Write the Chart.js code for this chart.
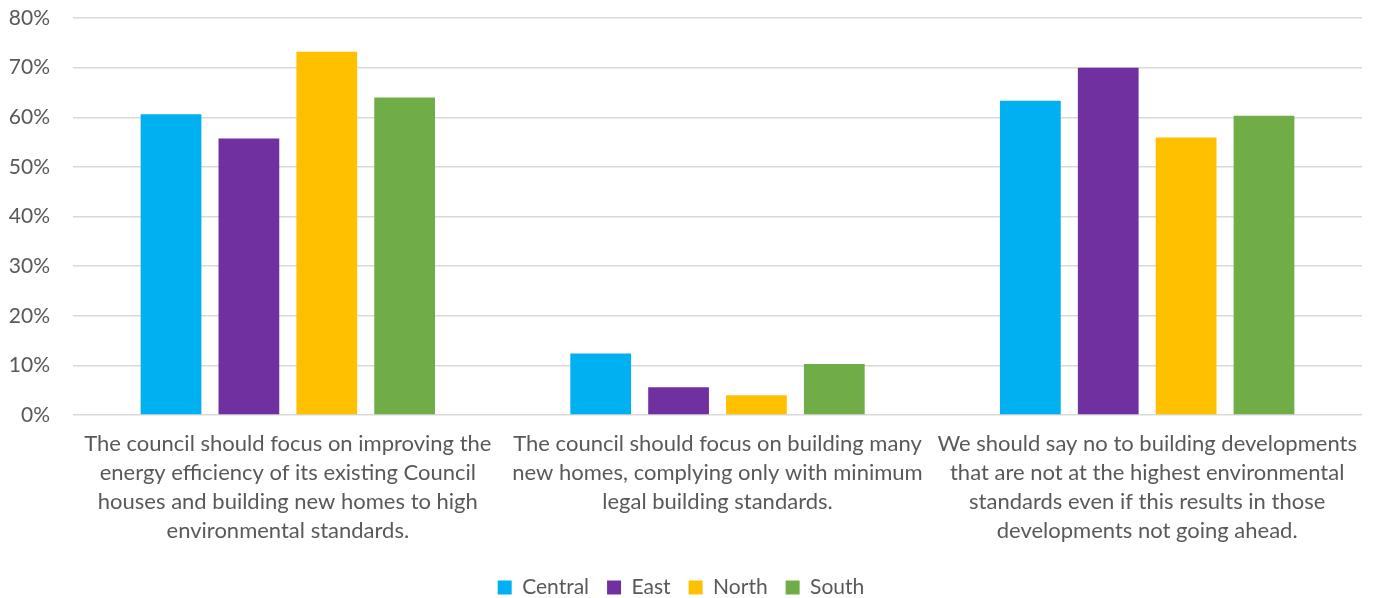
<!DOCTYPE html>
<html>
<head>
<meta charset="utf-8">
<script src="https://cdn.jsdelivr.net/npm/chart.js@4"></script>
<style>
  html, body { margin: 0; padding: 0; background: #fff; }
  #wrap { width: 1376px; height: 598px; }
</style>
</head>
<body>
<div id="wrap"><canvas id="regionChart"></canvas></div>
<script>
// categories (wrapped like the original)
const categories = [
  ['The council should focus on improving the', 'energy efficiency of its existing Council', 'houses and building new homes to high', 'environmental standards.'],
  ['The council should focus on building many', 'new homes, complying only with minimum', 'legal building standards.'],
  ['We should say no to building developments', 'that are not at the highest environmental', 'standards even if this results in those', 'developments not going ahead.']
];

// percentages per region
const central = [60.6, 12.4, 63.3];
const east = [55.7, 5.6, 70.0];
const north = [73.2, 4.0, 55.9];
const south = [64.0, 10.3, 60.3];

const yTicks = [0, 10, 20, 30, 40, 50, 60, 70, 80];

const font = 'Lato, "Open Sans", sans-serif';

const ctx = document.getElementById('regionChart').getContext('2d');

const regionChart = new Chart(ctx, {
  type: 'bar',
  data: {
    labels: categories,
    datasets: [
      { label: 'Central', data: central, backgroundColor: '#00B0F0' },
      { label: 'East', data: east, backgroundColor: '#7030A0' },
      { label: 'North', data: north, backgroundColor: '#FFC000' },
      { label: 'South', data: south, backgroundColor: '#70AD47' }
    ]
  },
  options: {
    responsive: true,
    maintainAspectRatio: false,
    animation: false,
    layout: { padding: { left: 0, right: 14, top: 0, bottom: -10 } },
    datasets: {
      bar: { barPercentage: 0.78, categoryPercentage: 0.725 }
    },
    plugins: {
      legend: {
        position: 'bottom',
        labels: {
          boxWidth: 14,
          boxHeight: 14,
          padding: 18,
          color: '#595959',
          font: { family: font, size: 21 }
        }
      },
      tooltip: { enabled: false }
    },
    scales: {
      x: {
        grid: { display: false },
        border: { display: false },
        afterFit: (axis) => { axis.height = 144; },
        ticks: {
          color: '#595959',
          autoSkip: false,
          maxRotation: 0,
          padding: 6,
          font: { family: font, size: 22, lineHeight: 1.32 }
        }
      },
      y: {
        min: 0,
        max: 80,
        afterBuildTicks: (axis) => { axis.ticks = yTicks.map(v => ({ value: v })); },
        afterFit: (axis) => {
          axis.width = 73;
          axis.paddingTop = 18;
          axis.paddingBottom = 0;
        },
        grid: { color: '#D9D9D9', lineWidth: 1.5, drawTicks: false },
        border: { display: false },
        ticks: {
          color: '#595959',
          padding: 23,
          callback: (v) => v + '%',
          font: { family: font, size: 21 }
        }
      }
    }
  }
});
</script>
</body>
</html>
